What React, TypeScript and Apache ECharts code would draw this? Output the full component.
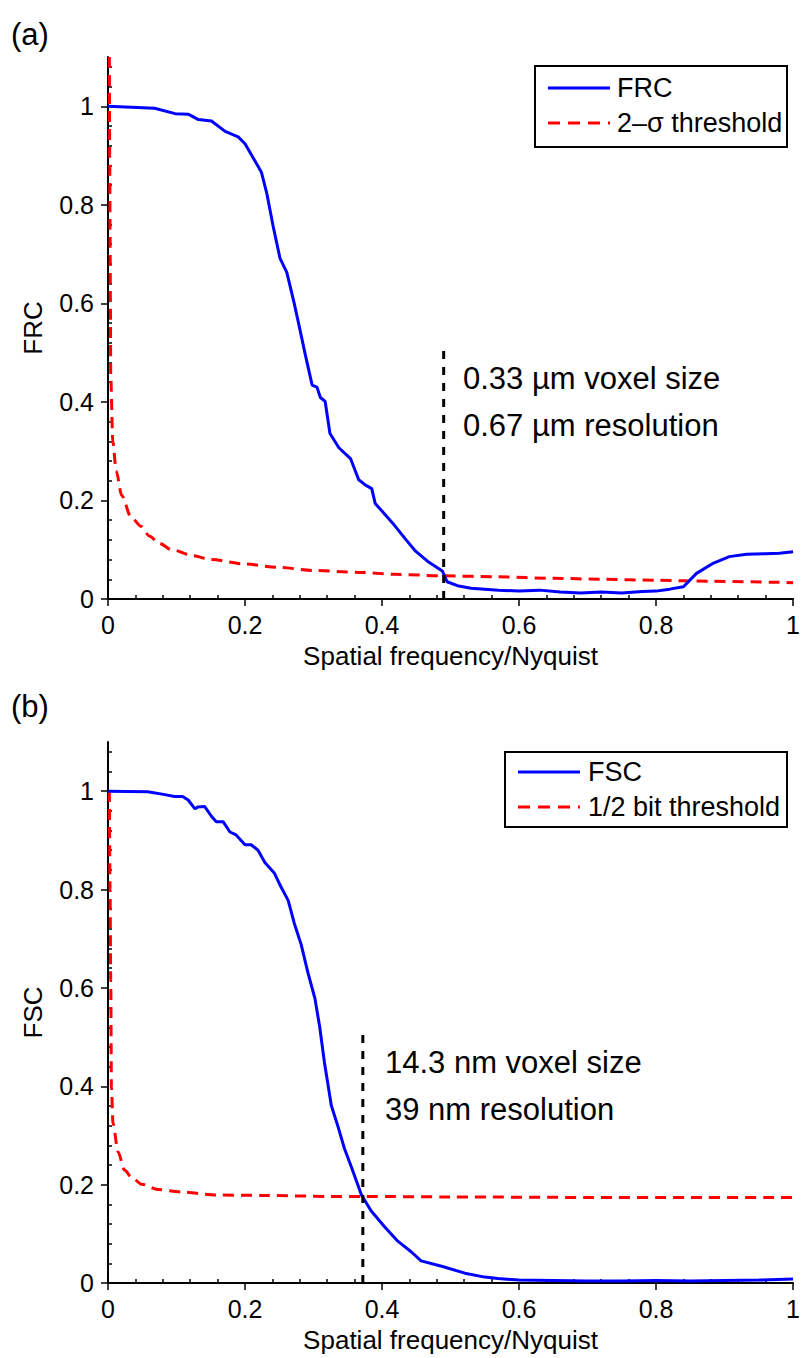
import React, { useEffect, useRef } from "react";
import * as echarts from "echarts";

// ---- Panel (a): FRC ----
const frcX = [0, 0.034, 0.068, 0.098, 0.117, 0.132, 0.151, 0.171, 0.19, 0.2, 0.215, 0.224, 0.232, 0.241, 0.251, 0.261, 0.271, 0.278, 0.288, 0.298, 0.305, 0.31, 0.317, 0.324, 0.337, 0.354, 0.366, 0.376, 0.385, 0.39, 0.415, 0.434, 0.449, 0.468, 0.488, 0.495, 0.51, 0.53, 0.55, 0.57, 0.6, 0.63, 0.66, 0.69, 0.72, 0.75, 0.78, 0.8, 0.82, 0.84, 0.859, 0.884, 0.907, 0.932, 0.96, 0.98, 1.0];
const frcY = [1.0, 0.998, 0.996, 0.985, 0.984, 0.973, 0.97, 0.949, 0.938, 0.924, 0.888, 0.866, 0.822, 0.757, 0.692, 0.663, 0.605, 0.561, 0.496, 0.434, 0.43, 0.409, 0.401, 0.336, 0.307, 0.285, 0.242, 0.231, 0.224, 0.194, 0.155, 0.122, 0.097, 0.075, 0.057, 0.035, 0.027, 0.022, 0.02, 0.018, 0.016, 0.018, 0.014, 0.012, 0.014, 0.012, 0.015, 0.016, 0.02, 0.025, 0.052, 0.073, 0.086, 0.091, 0.092, 0.093, 0.096];
const sigmaX = [0.002, 0.0025, 0.003, 0.0035, 0.004, 0.007, 0.012, 0.02, 0.034, 0.049, 0.06, 0.075, 0.093, 0.124, 0.15, 0.2, 0.25, 0.3, 0.366, 0.42, 0.49, 0.569, 0.65, 0.72, 0.8, 0.88, 0.98, 1.0];
const sigmaY = [1.1, 0.9, 0.75, 0.6, 0.45, 0.32, 0.26, 0.21, 0.165, 0.147, 0.128, 0.113, 0.1, 0.088, 0.08, 0.071, 0.064, 0.058, 0.054, 0.05, 0.047, 0.045, 0.042, 0.04, 0.038, 0.036, 0.034, 0.033];
const frcCutX = [0.49, 0.49];
const frcCutY = [0, 0.51];

// ---- Panel (b): FSC ----
const fscX = [0, 0.058, 0.083, 0.097, 0.109, 0.117, 0.127, 0.131, 0.141, 0.151, 0.158, 0.168, 0.178, 0.187, 0.2, 0.209, 0.219, 0.229, 0.243, 0.253, 0.263, 0.272, 0.282, 0.292, 0.302, 0.309, 0.316, 0.326, 0.336, 0.345, 0.355, 0.37, 0.384, 0.404, 0.423, 0.443, 0.457, 0.487, 0.521, 0.55, 0.569, 0.6, 0.65, 0.7, 0.75, 0.8, 0.85, 0.9, 0.95, 1.0];
const fscY = [1.0, 0.999, 0.993, 0.989, 0.989, 0.982, 0.964, 0.968, 0.969, 0.949, 0.938, 0.938, 0.917, 0.911, 0.891, 0.891, 0.88, 0.855, 0.833, 0.804, 0.778, 0.731, 0.688, 0.63, 0.579, 0.521, 0.448, 0.361, 0.317, 0.274, 0.237, 0.179, 0.147, 0.114, 0.085, 0.063, 0.045, 0.034, 0.02, 0.012, 0.009, 0.006, 0.005, 0.004, 0.004, 0.005, 0.004, 0.005, 0.006, 0.008];
const halfBitX = [0.002, 0.003, 0.004, 0.005, 0.0073, 0.0146, 0.024, 0.034, 0.049, 0.073, 0.107, 0.156, 0.229, 0.326, 0.372, 0.5, 0.7, 0.85, 1.0];
const halfBitY = [1.0, 0.8, 0.615, 0.397, 0.325, 0.267, 0.23, 0.216, 0.201, 0.19, 0.185, 0.179, 0.178, 0.176, 0.176, 0.175, 0.174, 0.174, 0.174];
const fscCutX = [0.372, 0.372];
const fscCutY = [0, 0.505];

// ---- Ticks ----
const xMajor = [0, 0.2, 0.4, 0.6, 0.8, 1];
const xMinor = [0.04, 0.08, 0.12, 0.16, 0.24, 0.28, 0.32, 0.36, 0.44, 0.48, 0.52, 0.56, 0.64, 0.68, 0.72, 0.76, 0.84, 0.88, 0.92, 0.96];
const yMajor = [0, 0.2, 0.4, 0.6, 0.8, 1];
const yMinor = [0.04, 0.08, 0.12, 0.16, 0.24, 0.28, 0.32, 0.36, 0.44, 0.48, 0.52, 0.56, 0.64, 0.68, 0.72, 0.76, 0.84, 0.88, 0.92, 0.96, 1.04, 1.08];

const FONT = "Liberation Sans, Arial, Helvetica, sans-serif";
const zip = (xs: number[], ys: number[]) => xs.map((x, i) => [x, ys[i]]);
const fmt = (v: number) => String(Math.round(v * 10) / 10);

function mainX(gridIndex: number) {
  return {
    type: "value", gridIndex, min: 0, max: 1,
    name: "Spatial frequency/Nyquist", nameLocation: "middle", nameGap: 44,
    nameTextStyle: { fontSize: 26, color: "#000", fontFamily: FONT },
    axisLine: { show: true, lineStyle: { color: "#000", width: 2 } },
    axisTick: { show: true, customValues: xMajor, length: 7, lineStyle: { color: "#000", width: 1.5 } },
    axisLabel: { customValues: xMajor, formatter: fmt, fontSize: 25, color: "#000", fontFamily: FONT, margin: 13 },
    splitLine: { show: false },
  };
}
function minorX(gridIndex: number) {
  return {
    type: "value", gridIndex, min: 0, max: 1,
    axisLine: { show: false },
    axisTick: { show: true, customValues: xMinor, length: 4, lineStyle: { color: "#000", width: 1.5 } },
    axisLabel: { show: false },
    splitLine: { show: false },
  };
}
function mainY(gridIndex: number, name: string) {
  return {
    type: "value", gridIndex, min: 0, max: 1.1,
    name, nameLocation: "middle", nameGap: 62,
    nameTextStyle: { fontSize: 26, color: "#000", fontFamily: FONT },
    axisLine: { show: true, lineStyle: { color: "#000", width: 2 } },
    axisTick: { show: true, customValues: yMajor, length: 7, lineStyle: { color: "#000", width: 1.5 } },
    axisLabel: { customValues: yMajor, formatter: fmt, fontSize: 25, color: "#000", fontFamily: FONT, margin: 14 },
    splitLine: { show: false },
  };
}
function minorY(gridIndex: number) {
  return {
    type: "value", gridIndex, min: 0, max: 1.1,
    axisLine: { show: false },
    axisTick: { show: true, customValues: yMinor, length: 4, lineStyle: { color: "#000", width: 1.5 } },
    axisLabel: { show: false },
    splitLine: { show: false },
  };
}

function legendBox(x: number, y: number, w: number, h: number, row1: number, row2: number, lineX0: number, lineX1: number, textX: number, label1: string, label2: string) {
  return {
    type: "group", z: 100,
    children: [
      { type: "rect", shape: { x, y, width: w, height: h }, style: { fill: "#fff", stroke: "#000", lineWidth: 2 } },
      { type: "line", shape: { x1: lineX0, y1: row1, x2: lineX1, y2: row1 }, style: { stroke: "#0000ff", lineWidth: 3 } },
      { type: "line", shape: { x1: lineX0, y1: row2, x2: lineX1, y2: row2 }, style: { stroke: "#ff0000", lineWidth: 3, lineDash: [12, 8] } },
      { type: "text", x: textX, y: row1, style: { text: label1, fontSize: 27, fill: "#000", fontFamily: FONT, verticalAlign: "middle", align: "left" } },
      { type: "text", x: textX, y: row2, style: { text: label2, fontSize: 27, fill: "#000", fontFamily: FONT, verticalAlign: "middle", align: "left" } },
    ],
  };
}

function txt(x: number, y: number, text: string, size: number) {
  return { type: "text", x, y, z: 90, style: { text, fontSize: size, fill: "#000", fontFamily: FONT, verticalAlign: "middle", align: "left" } };
}

export default function App() {
  const ref = useRef<HTMLDivElement>(null);
  useEffect(() => {
    if (!ref.current) return;
    const chart = echarts.init(ref.current, null, { renderer: "svg" });
    const blue = { color: "#0000ff", width: 3 };
    const red = { color: "#ff0000", width: 3, type: [11, 7] };
    const black = { color: "#000", width: 3, type: [8, 8] };
    chart.setOption({
      animation: false,
      backgroundColor: "#fff",
      grid: [
        { left: 108, top: 57, width: 689, height: 542 },
        { left: 108, top: 742, width: 689, height: 541 },
      ],
      xAxis: [mainX(0), mainX(1), minorX(0), minorX(1)],
      yAxis: [mainY(0, "FRC"), mainY(1, "FSC"), minorY(0), minorY(1)],
      series: [
        { name: "2\u2013\u03c3 threshold", type: "line", xAxisIndex: 0, yAxisIndex: 0, data: zip(sigmaX, sigmaY), showSymbol: false, smooth: 0.3, smoothMonotone: "x", lineStyle: red, z: 3 },
        { name: "FRC", type: "line", xAxisIndex: 0, yAxisIndex: 0, data: zip(frcX, frcY), showSymbol: false, lineStyle: blue, z: 4 },
        { name: "FRC cut", type: "line", xAxisIndex: 0, yAxisIndex: 0, data: zip(frcCutX, frcCutY), showSymbol: false, lineStyle: black, z: 5 },
        { name: "1/2 bit threshold", type: "line", xAxisIndex: 1, yAxisIndex: 1, data: zip(halfBitX, halfBitY), showSymbol: false, smooth: 0.3, smoothMonotone: "x", lineStyle: red, z: 3 },
        { name: "FSC", type: "line", xAxisIndex: 1, yAxisIndex: 1, data: zip(fscX, fscY), showSymbol: false, lineStyle: blue, z: 4 },
        { name: "FSC cut", type: "line", xAxisIndex: 1, yAxisIndex: 1, data: zip(fscCutX, fscCutY), showSymbol: false, lineStyle: black, z: 5 },
      ],
      graphic: [
        txt(11, 34, "(a)", 31),
        txt(11, 706, "(b)", 31),
        txt(463, 378, "0.33 \u00b5m voxel size", 31),
        txt(463, 425, "0.67 \u00b5m resolution", 31),
        txt(385, 1062, "14.3 nm voxel size", 31),
        txt(385, 1109, "39 nm resolution", 31),
        legendBox(535, 66, 252, 81, 88, 123, 548, 610, 617, "FRC", "2\u2013\u03c3 threshold"),
        legendBox(505, 752, 282, 75, 772, 807, 518, 580, 588, "FSC", "1/2 bit threshold"),
      ],
    });
    return () => chart.dispose();
  }, []);
  return <div ref={ref} style={{ position: "absolute", left: 0, top: 0, width: 803, height: 1358 }} />;
}
